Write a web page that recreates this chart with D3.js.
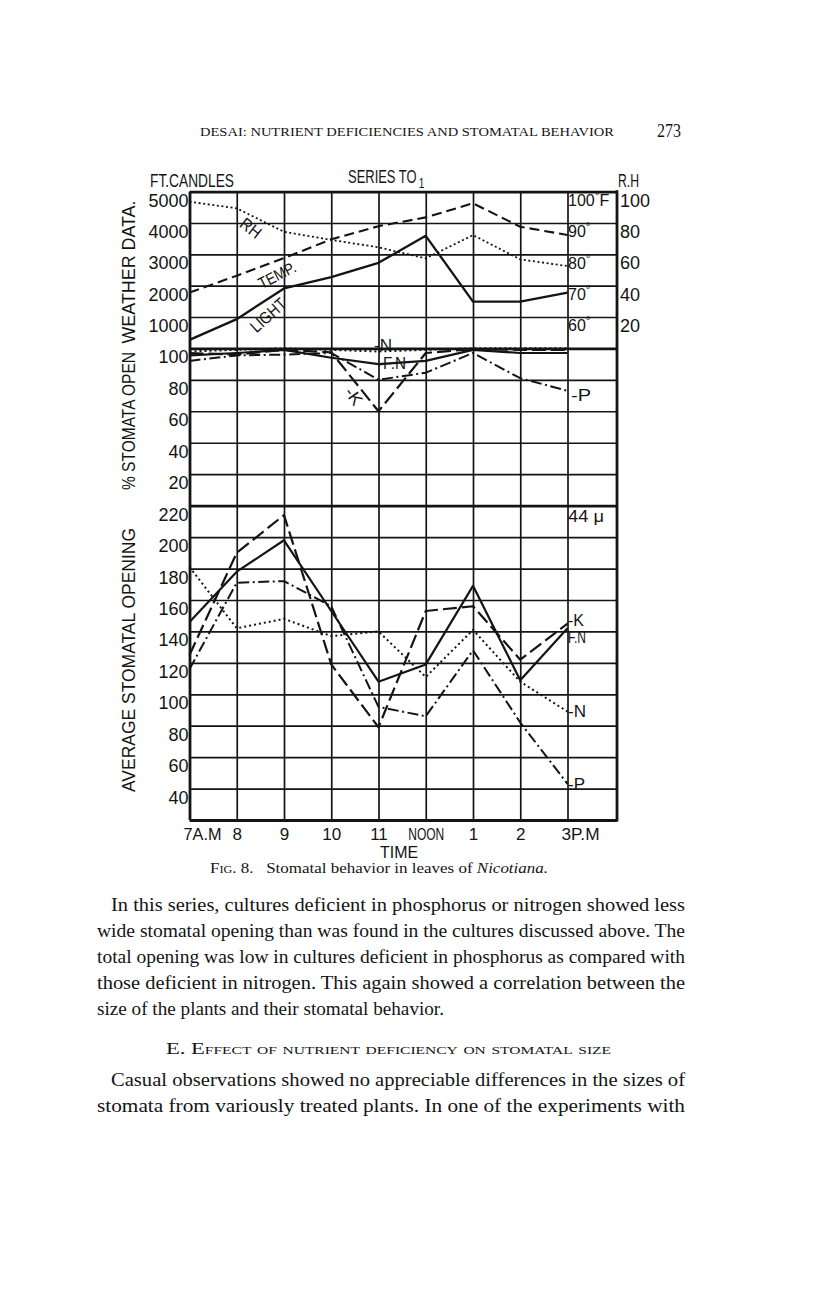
<!DOCTYPE html>
<html><head><meta charset="utf-8">
<script src="https://cdn.jsdelivr.net/npm/d3@7"></script>
<style>
body{margin:0;background:#fff;}
svg text{fill:#141414;}
.hand{font-family:"Liberation Sans","DejaVu Sans",Arial,sans-serif;}
.serif{font-family:"Liberation Serif","DejaVu Serif",serif;}
</style></head><body>
<svg id="c" width="816" height="1297"></svg>
<script>
// ---------- DATA ----------
const times = ["7A.M","8","9","10","11","NOON","1","2","3P.M"];
// weather data
const light = [270, 930, 1910, 2270, 2730, 3590, 1490, 1490, 1780];   // ft. candles
const temp  = [67.8, 73.2, 78.8, 84.8, 89.0, 91.8, 96.3, 88.8, 86.2];  // °F
const rh    = [93.6, 89.4, 74.4, 69.2, 64.5, 57.4, 72.3, 56.8, 52.5];  // %
// % stomata open
const openN  = [98, 99, 100, 99, 98, 99, 100, 100, 100];
const openFN = [95.5, 97, 99, 94, 90, 92, 99, 97, 97];
const openK  = [97, 96, 99, 97.5, 60, 97, 99.5, 99, 99];
const openP  = [92, 95.5, 96, 97, 80, 84.5, 97, 81, 73];
// average stomatal opening
const widthFN = [146, 178, 198, 153, 108, 119, 169, 109, 142];
const widthK  = [125, 190, 214, 119, 79, 153, 156, 122, 145];
const widthN  = [181, 142, 148, 137, 140, 111, 141, 108, 89];
const widthP  = [116, 171, 172, 156, 92, 86, 128, 82, 43];
// tick labels
const ftTicks = [1000, 2000, 3000, 4000, 5000];
const tempTicks = [60, 70, 80, 90, 100];
const rhTicks = [20, 40, 60, 80, 100];
const pctTicks = [20, 40, 60, 80, 100];
const widthTicks = [40, 60, 80, 100, 120, 140, 160, 180, 200, 220];

// ---------- LAYOUT ----------
const svg = d3.select("#c");
const X0 = 189.5, X8 = 567.5, XR = 617;
const TOP = 191.7, MID1 = 348.3, MID2 = 505.7, BOT = 820;
const x  = d3.scaleLinear().domain([0, 8]).range([X0, X8]);
const yW = d3.scaleLinear().domain([0, 5000]).range([MID1, TOP]);
const yT = d3.scaleLinear().domain([50, 100]).range([MID1, TOP]);
const yR = d3.scaleLinear().domain([0, 100]).range([MID1, TOP]);
const yP = d3.scaleLinear().domain([0, 100]).range([MID2, MID1]);
const yO = d3.scaleLinear().domain([20, 220]).range([BOT, MID2]);
const INK = "#141414";
const fmt = d3.format("d");

// ---------- GRID ----------
function hgrid(scale, vals, w) {
  svg.append("g").attr("transform", `translate(${X0},0)`)
    .call(d3.axisLeft(scale).tickValues(vals).tickSize(-(XR - X0)).tickFormat(""))
    .call(g => g.select(".domain").remove())
    .selectAll("line").attr("stroke", INK).attr("stroke-width", w);
}
hgrid(yW, [1000, 2000, 3000, 4000], 1.7);
hgrid(yP, [20, 40, 60, 80], 1.7);
hgrid(yO, [40, 60, 80, 100, 120, 140, 160, 180, 200], 1.7);
svg.append("g").attr("transform", `translate(0,${BOT})`)
  .call(d3.axisBottom(x).tickValues(d3.range(1, 9)).tickSize(-(BOT - TOP)).tickFormat(""))
  .call(g => g.select(".domain").remove())
  .selectAll("line").attr("stroke", INK).attr("stroke-width", 1.7);
// thick borders
hgrid(yW, [0, 5000], 2.8);
hgrid(yP, [0], 2.8);
hgrid(yO, [20], 2.8);
svg.append("g").attr("transform", `translate(0,${BOT})`)
  .call(d3.axisBottom(x).tickValues([0]).tickSize(-(BOT - TOP)).tickFormat(""))
  .call(g => g.select(".domain").remove())
  .selectAll("line").attr("stroke", INK).attr("stroke-width", 2.8);
svg.append("line").attr("x1", XR).attr("x2", XR).attr("y1", TOP - 1.4).attr("y2", BOT + 1.4)
  .attr("stroke", INK).attr("stroke-width", 2.8);

// ---------- AXIS LABELS ----------
function labelAxis(axis, tx, anchor, dx, size) {
  const g = svg.append("g").attr("transform", `translate(${tx},0)`).attr("class", "hand")
    .call(axis.tickSize(0).tickPadding(0).tickFormat(fmt));
  g.select(".domain").remove();
  g.selectAll("text").attr("font-size", size || 18).attr("fill", INK)
    .attr("text-anchor", anchor).attr("x", dx).attr("y", 8).attr("dy", "0.36em")
    .attr("font-family", null);
  return g;
}
labelAxis(d3.axisLeft(yW).tickValues(ftTicks), X0, "end", -1);
labelAxis(d3.axisLeft(yP).tickValues(pctTicks), X0, "end", -1);
labelAxis(d3.axisLeft(yO).tickValues(widthTicks), X0, "end", -1);
labelAxis(d3.axisRight(yR).tickValues(rhTicks), XR, "start", 3);
const tg = labelAxis(d3.axisRight(yT).tickValues(tempTicks), X8, "start", 0.5, 16);
tg.selectAll("text").each(function(d) {
  const t = d3.select(this); t.text(null);
  t.append("tspan").text(d);
  t.append("tspan").attr("font-size", 12).attr("dy", -6).text("°");
  if (d === 100) t.append("tspan").attr("dy", 6).text("F");
});
// x axis
const xg = svg.append("g").attr("transform", `translate(0,${BOT})`).attr("class", "hand")
  .call(d3.axisBottom(x).tickValues(d3.range(9)).tickFormat(i => times[i]).tickSize(0).tickPadding(0));
xg.select(".domain").remove();
xg.selectAll("text").attr("font-size", 17).attr("fill", INK).attr("font-family", null)
  .attr("y", 14).attr("dy", "0.36em")
  .each(function(d) {
    const t = d3.select(this);
    if (d === 0 || d === 8) t.attr("text-anchor", "start").attr("x", -6.5).attr("textLength", 38).attr("lengthAdjust", "spacingAndGlyphs");
    if (d === 5) t.attr("textLength", 36).attr("lengthAdjust", "spacingAndGlyphs");
  });

// ---------- SERIES ----------
function series(vals, y, dash, w) {
  svg.append("path").datum(vals)
    .attr("d", d3.line().x((d, i) => x(i)).y(d => y(d)))
    .attr("fill", "none").attr("stroke", INK).attr("stroke-width", w)
    .attr("stroke-linejoin", "round")
    .attr("stroke-dasharray", dash);
}
const SOLID = null, DASH = "14,5", DOT = "2,3", DASHDOT = "11,3.5,2,3.5";
series(rh, yR, "2,2.6", 1.8);
series(temp, yT, "10,5", 2.1);
series(light, yW, SOLID, 2.3);
series(openN, yP, DOT, 2);
series(openFN, yP, SOLID, 2.2);
series(openK, yP, DASH, 2.2);
series(openP, yP, DASHDOT, 2);
series(widthN, yO, DOT, 2);
series(widthFN, yO, SOLID, 2.2);
series(widthK, yO, DASH, 2.2);
series(widthP, yO, DASHDOT, 2);

// ---------- TEXT ----------
function txt(s, px, py, opt = {}) {
  const t = svg.append("text").attr("class", opt.cls || "hand")
    .attr("x", px).attr("y", py).attr("dy", "0.36em")
    .attr("font-size", opt.size || 18)
    .attr("text-anchor", opt.anchor || "start")
    .text(s);
  if (opt.len) t.attr("textLength", opt.len).attr("lengthAdjust", "spacingAndGlyphs");
  if (opt.rot !== undefined) t.attr("transform", `rotate(${opt.rot},${px},${py})`);
  if (opt.style) t.attr("font-style", opt.style);
  return t;
}
txt("FT.CANDLES", 150, 181, {len: 84});
// title with subscript, condensed by a horizontal scale
const ser = svg.append("text").attr("class", "hand").attr("x", 0).attr("y", 0).attr("dy", "0.36em")
  .attr("font-size", 18).attr("transform", "translate(348,177) scale(0.72,1)");
ser.append("tspan").text("SERIES TO");
ser.append("tspan").attr("font-size", 14).attr("dy", 5).attr("dx", 3).text("1");
txt("R.H", 618, 181, {len: 21});
// rotated panel titles
txt("WEATHER DATA.", 129, 272, {anchor: "middle", rot: -90, len: 143});
txt("% STOMATA OPEN", 129, 421, {anchor: "middle", rot: -90, len: 138});
txt("AVERAGE  STOMATAL  OPENING", 129, 660, {anchor: "middle", rot: -90, len: 264});
// curve labels
txt("RH", 251, 228, {anchor: "middle", rot: 38, size: 17, len: 22});
txt("TEMP.", 277, 275, {anchor: "middle", rot: -27, size: 16, len: 40});
txt("LIGHT", 268, 315, {anchor: "middle", rot: -42, size: 17, len: 42});
txt("-N", 383, 345, {anchor: "middle", size: 16, len: 18});
txt("-F.N", 392, 363, {anchor: "middle", size: 16, len: 28});
txt("-K", 354, 396, {anchor: "middle", size: 17, rot: 55, len: 18});
txt("-P", 581, 395, {anchor: "middle", size: 17, len: 20});
txt("44  μ", 568, 516, {size: 17, len: 36});
txt("-K", 568, 620, {size: 17, len: 16});
txt("F.N", 568, 637, {size: 16, len: 18});
txt("-N", 568, 711, {size: 17, len: 18});
txt("-P", 568, 784, {size: 17, len: 17});
txt("TIME", 399, 852, {anchor: "middle", size: 17, len: 38});

// caption
const cap = svg.append("text").attr("class", "serif").attr("x", 210).attr("y", 873)
  .attr("font-size", 14).attr("textLength", 338).attr("lengthAdjust", "spacingAndGlyphs");
cap.append("tspan").attr("font-variant", "small-caps").text("Fig. 8.");
cap.append("tspan").text("\u00a0\u00a0 Stomatal behavior in leaves of ");
cap.append("tspan").attr("font-style", "italic").text("Nicotiana.");

// header
svg.append("text").attr("class", "serif").attr("x", 200).attr("y", 136)
  .attr("font-size", 13).attr("textLength", 414).attr("lengthAdjust", "spacingAndGlyphs")
  .text("DESAI: NUTRIENT DEFICIENCIES AND STOMATAL BEHAVIOR");
svg.append("text").attr("class", "serif").attr("x", 657).attr("y", 137)
  .attr("font-size", 18).attr("textLength", 24).attr("lengthAdjust", "spacingAndGlyphs").text("273");

// body text
const para1 = [
  ["In this series, cultures deficient in phosphorus or nitrogen showed less", 111, 574],
  ["wide stomatal opening than was found in the cultures discussed above.  The", 97, 588],
  ["total opening was low in cultures deficient in phosphorus as compared with", 97, 588],
  ["those deficient in nitrogen.  This again showed a correlation between the", 97, 588],
  ["size of the plants and their stomatal behavior.", 97, 347]
];
para1.forEach((l, i) => {
  svg.append("text").attr("class", "serif").attr("x", l[1]).attr("y", 911 + i * 26)
    .attr("font-size", 18).attr("textLength", l[2]).attr("lengthAdjust", "spacingAndGlyphs")
    .text(l[0]);
});
svg.append("text").attr("class", "serif").attr("x", 166).attr("y", 1054)
  .attr("font-size", 16).attr("font-variant", "small-caps")
  .attr("textLength", 445).attr("lengthAdjust", "spacingAndGlyphs")
  .text("E.  Effect of nutrient deficiency on stomatal size");
const para2 = [
  ["Casual observations showed no appreciable differences in the sizes of", 111, 574],
  ["stomata from variously treated plants.  In one of the experiments with", 97, 588]
];
para2.forEach((l, i) => {
  svg.append("text").attr("class", "serif").attr("x", l[1]).attr("y", 1086 + i * 26)
    .attr("font-size", 18).attr("textLength", l[2]).attr("lengthAdjust", "spacingAndGlyphs")
    .text(l[0]);
});
</script>
</body></html>
